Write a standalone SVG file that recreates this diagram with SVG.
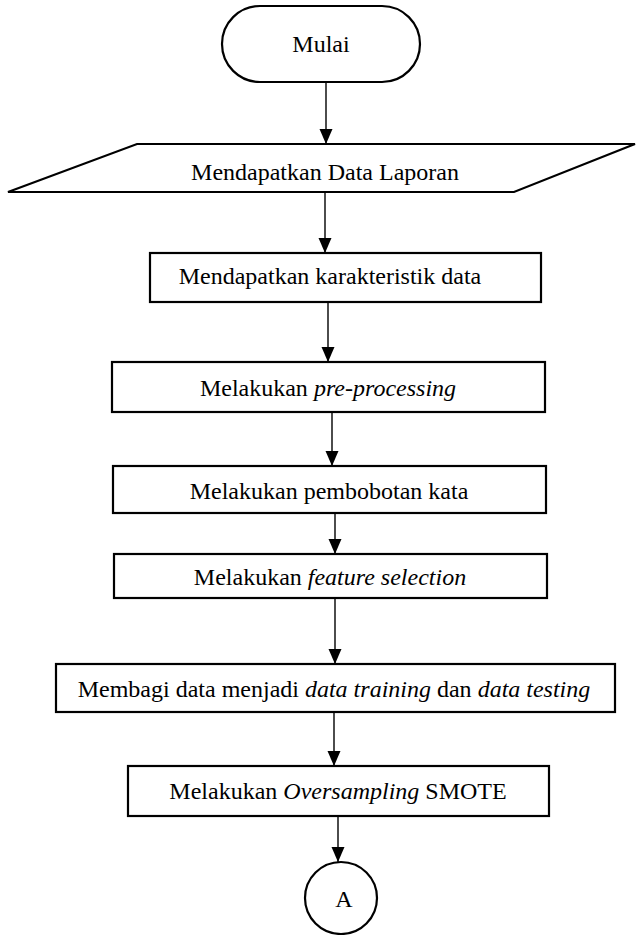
<svg xmlns="http://www.w3.org/2000/svg" width="637" height="935" viewBox="0 0 637 935">
<style>
.shape{fill:#fff;stroke:#000;stroke-width:2.2}
.lbl{font-family:"Liberation Serif","Times New Roman",serif;font-size:24px;fill:#000;text-anchor:middle}
.it{font-style:italic}
.conn{stroke:#000;stroke-width:1.4;fill:none;marker-end:url(#ah)}
</style>
<defs>
<marker id="ah" markerUnits="userSpaceOnUse" markerWidth="15" markerHeight="14" refX="15" refY="6.5" orient="auto">
<path d="M0,0 L15,6.5 L0,13 z" fill="#000"/>
</marker>
</defs>
<rect width="637" height="935" fill="#fff"/>
<g id="connectors">
<line class="conn" x1="326" y1="82" x2="326" y2="144"/>
<line class="conn" x1="325" y1="192" x2="325" y2="253"/>
<line class="conn" x1="328" y1="302" x2="328" y2="362"/>
<line class="conn" x1="332" y1="412" x2="332" y2="466"/>
<line class="conn" x1="335" y1="513" x2="335" y2="554"/>
<line class="conn" x1="335" y1="598" x2="335" y2="664"/>
<line class="conn" x1="334" y1="712" x2="334" y2="766"/>
<line class="conn" x1="338" y1="816" x2="338" y2="862"/>
</g>
<g id="start">
<rect class="shape" x="222" y="6" width="198" height="76" rx="38" ry="38"/>
<text class="lbl" x="321" y="52">Mulai</text>
</g>
<g id="input">
<polygon class="shape" points="137,144 635,144 514,192 8,192"/>
<text class="lbl" x="325" y="180">Mendapatkan Data Laporan</text>
</g>
<g id="step1">
<rect class="shape" x="150" y="253" width="391" height="49"/>
<text class="lbl" x="330" y="284">Mendapatkan karakteristik data</text>
</g>
<g id="step2">
<rect class="shape" x="112" y="362" width="433" height="50"/>
<text class="lbl" x="328" y="396">Melakukan <tspan class="it">pre-processing</tspan></text>
</g>
<g id="step3">
<rect class="shape" x="113" y="466" width="433" height="47"/>
<text class="lbl" x="329" y="499">Melakukan pembobotan kata</text>
</g>
<g id="step4">
<rect class="shape" x="114" y="554" width="433" height="44"/>
<text class="lbl" x="330" y="585">Melakukan <tspan class="it">feature selection</tspan></text>
</g>
<g id="step5">
<rect class="shape" x="56" y="664" width="559" height="48"/>
<text class="lbl" x="334" y="697">Membagi data menjadi <tspan class="it">data training</tspan> dan <tspan class="it">data testing</tspan></text>
</g>
<g id="step6">
<rect class="shape" x="128" y="766" width="421" height="50"/>
<text class="lbl" x="338" y="799">Melakukan <tspan class="it">Oversampling</tspan> SMOTE</text>
</g>
<g id="connector-a">
<circle class="shape" cx="341" cy="898" r="36"/>
<text class="lbl" x="344" y="907">A</text>
</g>
</svg>
